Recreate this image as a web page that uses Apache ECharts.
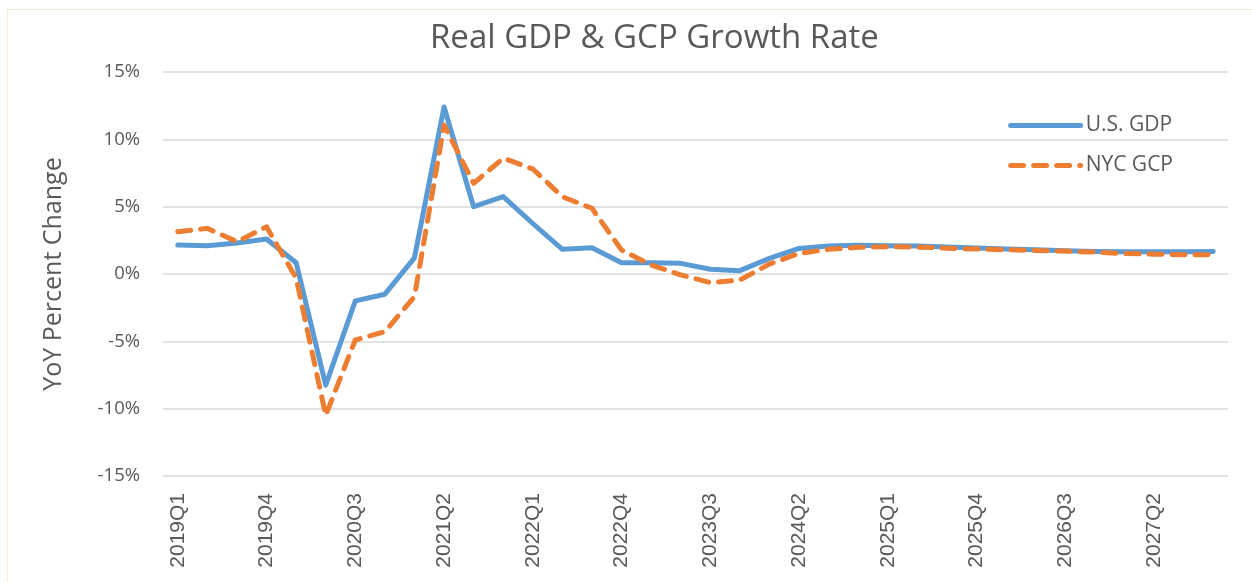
<!DOCTYPE html>
<html>
<head>
<meta charset="utf-8">
<script src="https://cdn.jsdelivr.net/npm/echarts@6/dist/echarts.min.js"></script>
<style>
  html, body { margin: 0; padding: 0; background: #fff; }
  #main { width: 1252px; height: 582px; }
</style>
</head>
<body>
<div id="main"></div>
<script>
let quarters = [];
for (let y = 2019; y <= 2027; y++) {
    for (let q = 1; q <= 4; q++) quarters.push(y + "Q" + q);
}

// YoY percent change
let usGdp = [
    2.15, 2.1, 2.3, 2.6, 0.84, -8.25, -2.0, -1.5, 1.2, 12.4,
    5.0, 5.75, 3.75, 1.83, 1.95, 0.84, 0.84, 0.79, 0.35, 0.25,
    1.16, 1.9, 2.08, 2.13, 2.1, 2.07, 2.0, 1.93, 1.85, 1.8,
    1.73, 1.68, 1.66, 1.65, 1.66, 1.68
];
let nycGcp = [
    3.14, 3.39, 2.4, 3.5, -0.3, -10.5, -4.9, -4.28, -1.68, 11.06,
    6.73, 8.6, 7.8, 5.74, 4.88, 1.78, 0.67, -0.07, -0.64, -0.45,
    0.74, 1.53, 1.83, 1.98, 2.03, 2.0, 1.92, 1.85, 1.8, 1.75,
    1.7, 1.62, 1.52, 1.47, 1.43, 1.42
];

let chartDom = document.getElementById("main");
let myChart = echarts.init(chartDom);
let textColor = "#595959";

let option = {
    animation: false,
    backgroundColor: "#fff",
    title: {
        text: "Real GDP & GCP Growth Rate",
        left: 425,
        top: 17,
        textStyle: {
            fontFamily: "Open Sans",
            fontSize: 33,
            fontWeight: "normal",
            color: textColor,
        },
    },
    legend: {
        orient: "vertical",
        right: 74,
        top: 110,
        itemWidth: 70,
        itemHeight: 14,
        itemGap: 19,
        itemStyle: { opacity: 0 },
        lineStyle: { width: 5, cap: "round" },
        textStyle: { fontFamily: "Open Sans", fontSize: 21, color: textColor },
        data: ["U.S. GDP", "NYC GCP"],
    },
    grid: {
        left: 163,
        right: 24,
        top: 72,
        bottom: 106,
    },
    xAxis: {
        type: "category",
        data: quarters,
        boundaryGap: true,
        axisLine: { show: false },
        axisTick: { show: false },
        axisLabel: {
            interval: 2,
            rotate: 90,
            margin: 17,
            fontFamily: "Liberation Sans",
            fontSize: 21,
            color: textColor,
        },
    },
    yAxis: {
        type: "value",
        min: -15,
        max: 15,
        interval: 5,
        name: "YoY Percent Change",
        nameLocation: "middle",
        nameGap: 97,
        nameTextStyle: { fontFamily: "Open Sans", fontSize: 25, color: textColor },
        axisLine: { show: false },
        axisTick: { show: false },
        axisLabel: {
            formatter: "{value}%",
            margin: 23,
            fontFamily: "Open Sans",
            fontSize: 18.5,
            color: textColor,
        },
        splitLine: { lineStyle: { color: "#d9d9d9", width: 1.5 } },
    },
    series: [
        {
            name: "U.S. GDP",
            type: "line",
            data: usGdp,
            symbol: "none",
            color: "#5B9BD5",
            lineStyle: { width: 5, color: "#5B9BD5", cap: "round", join: "round" },
        },
        {
            name: "NYC GCP",
            type: "line",
            data: nycGcp,
            symbol: "none",
            color: "#ED7D31",
            lineStyle: { width: 5, color: "#ED7D31", type: [13, 10], cap: "round", join: "round" },
        },
    ],
    graphic: [
        {
            type: "rect",
            left: 5,
            top: 7,
            shape: { width: 1250, height: 580 },
            style: { fill: "none", stroke: "#f6ecd2", lineWidth: 1 },
            silent: true,
        },
    ],
};

myChart.setOption(option);
</script>
</body>
</html>
